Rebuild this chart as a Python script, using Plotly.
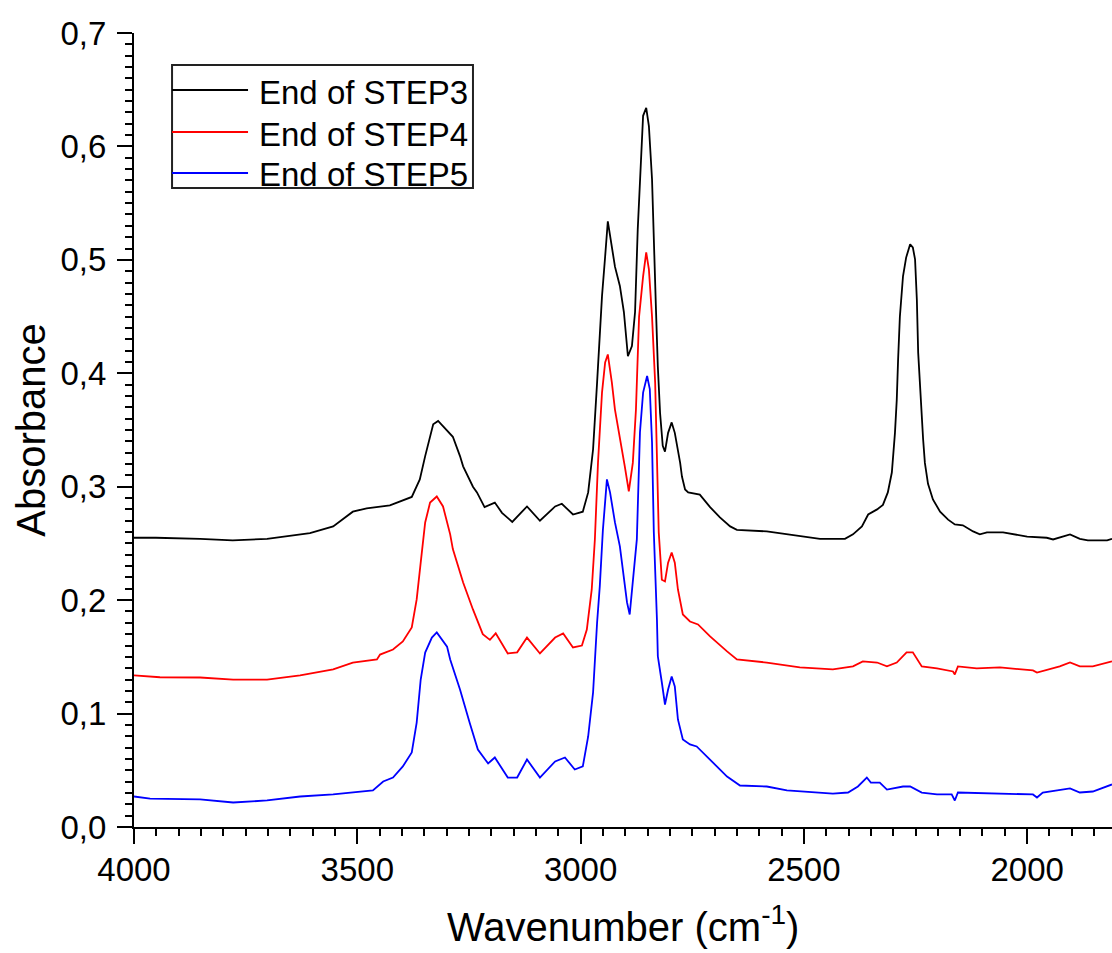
import plotly.graph_objects as go

# ---- data ----
step3_wn = [4000, 3951, 3852, 3779, 3702, 3606, 3554, 3510, 3479, 3427, 3378, 3360, 3348, 3330, 3319,
            3292, 3286, 3270, 3263, 3241, 3232, 3215, 3192, 3176, 3153, 3120, 3091, 3057, 3042, 3017,
            2995, 2983, 2972, 2963, 2952, 2945, 2939, 2923, 2912, 2903, 2894, 2885, 2878, 2872, 2867,
            2860, 2853, 2847, 2840, 2836, 2831, 2827, 2822, 2816, 2811, 2804, 2796, 2789, 2782, 2777,
            2773, 2766, 2759, 2733, 2710, 2688, 2665, 2650, 2583, 2524, 2464, 2408, 2390, 2370, 2356,
            2336, 2323, 2312, 2303, 2296, 2292, 2289, 2285, 2278, 2271, 2262, 2256, 2251, 2247, 2244,
            2238, 2233, 2229, 2222, 2211, 2195, 2177, 2162, 2144, 2121, 2106, 2090, 2054, 2000, 1956,
            1942, 1904, 1882, 1864, 1821, 1810]
step3_abs = [0.255, 0.255, 0.254, 0.2527, 0.254, 0.259, 0.265, 0.278, 0.281, 0.2835, 0.291, 0.3065, 0.327, 0.355, 0.358,
             0.346, 0.344, 0.327, 0.318, 0.300, 0.295, 0.282, 0.286, 0.277, 0.269, 0.2826, 0.270, 0.2826, 0.285, 0.2755,
             0.278, 0.295, 0.333, 0.392, 0.468, 0.503, 0.534, 0.494, 0.477, 0.454, 0.415, 0.424, 0.454, 0.527, 0.574,
             0.627, 0.634, 0.618, 0.571, 0.512, 0.454, 0.406, 0.365, 0.336, 0.331, 0.3475, 0.3567, 0.3475, 0.333, 0.321,
             0.309, 0.2976, 0.295, 0.293, 0.282, 0.273, 0.265, 0.262, 0.2606, 0.257, 0.254, 0.254, 0.258, 0.265, 0.2755,
             0.280, 0.284, 0.295, 0.3125, 0.3475, 0.3765, 0.412, 0.450, 0.4855, 0.502, 0.5137, 0.511, 0.5004, 0.465, 0.418,
             0.371, 0.342, 0.321, 0.3025, 0.2888, 0.278, 0.271, 0.2667, 0.266, 0.2606, 0.258, 0.2597, 0.2597, 0.256, 0.255,
             0.2535, 0.258, 0.254, 0.2527, 0.2527, 0.254]

step4_wn = [4000, 3942, 3852, 3778, 3702, 3628, 3554, 3510, 3456, 3449, 3420, 3398, 3378, 3367, 3358,
            3348, 3337, 3322, 3308, 3292, 3286, 3270, 3263, 3241, 3219, 3203, 3190, 3163, 3142, 3120,
            3091, 3057, 3039, 3017, 2997, 2986, 2975, 2968, 2961, 2952, 2945, 2939, 2930, 2923, 2912,
            2901, 2892, 2883, 2876, 2869, 2860, 2853, 2847, 2840, 2833, 2829, 2825, 2818, 2811, 2804,
            2796, 2789, 2782, 2771, 2755, 2737, 2710, 2672, 2650, 2583, 2509, 2435, 2390, 2368, 2336,
            2314, 2292, 2270, 2256, 2236, 2202, 2166, 2162, 2155, 2113, 2061, 1987, 1978, 1927, 1904,
            1882, 1853, 1810]
step4_abs = [0.1336, 0.132, 0.1318, 0.130, 0.130, 0.1336, 0.139, 0.145, 0.1477, 0.152, 0.1565, 0.1636, 0.176, 0.2006, 0.233,
             0.2685, 0.286, 0.2914, 0.2826, 0.258, 0.245, 0.224, 0.2156, 0.1918, 0.170, 0.165, 0.1707, 0.153, 0.154, 0.167,
             0.153, 0.167, 0.1707, 0.1583, 0.160, 0.174, 0.2094, 0.2535, 0.321, 0.383, 0.4096, 0.4166, 0.392, 0.368, 0.3444,
             0.318, 0.296, 0.321, 0.368, 0.450, 0.4855, 0.5066, 0.4916, 0.450, 0.392, 0.333, 0.260, 0.218, 0.2165, 0.233,
             0.242, 0.233, 0.2094, 0.1874, 0.1812, 0.1786, 0.168, 0.1548, 0.1477, 0.145, 0.1407, 0.139, 0.1416, 0.146, 0.145,
             0.1416, 0.145, 0.154, 0.154, 0.1416, 0.1398, 0.1371, 0.1345, 0.1416, 0.1398, 0.1407, 0.138, 0.1362, 0.1416, 0.145,
             0.1416, 0.1416, 0.146]

step5_wn = [4000, 3964, 3852, 3778, 3702, 3628, 3554, 3465, 3442, 3420, 3398, 3378, 3367, 3358, 3348,
            3333, 3322, 3299, 3292, 3270, 3248, 3230, 3207, 3192, 3163, 3142, 3120, 3091, 3057, 3035,
            3013, 2995, 2983, 2972, 2963, 2957, 2950, 2941, 2934, 2923, 2912, 2905, 2896, 2890, 2883,
            2874, 2867, 2860, 2851, 2845, 2840, 2836, 2829, 2827, 2818, 2811, 2804, 2796, 2789, 2782,
            2771, 2755, 2740, 2710, 2672, 2643, 2583, 2538, 2435, 2401, 2379, 2359, 2350, 2330, 2314,
            2278, 2262, 2236, 2202, 2169, 2162, 2155, 2061, 1987, 1978, 1965, 1904, 1882, 1853, 1810]
step5_abs = [0.0269, 0.0251, 0.0243, 0.0216, 0.0234, 0.0269, 0.0287, 0.0322, 0.0401, 0.0436, 0.0534, 0.0657, 0.0921, 0.130, 0.1538,
             0.167, 0.1715, 0.159, 0.1477, 0.1212, 0.0915, 0.0683, 0.056, 0.0613, 0.0436, 0.0436, 0.0595, 0.0436, 0.0578, 0.0613,
             0.0507, 0.0534, 0.0798, 0.1186, 0.1803, 0.2121, 0.262, 0.3065, 0.295, 0.2685, 0.2474, 0.224, 0.198, 0.1874, 0.218,
             0.2535, 0.348, 0.383, 0.3976, 0.386, 0.339, 0.260, 0.183, 0.1505, 0.1274, 0.108, 0.1212, 0.1327, 0.1239, 0.0948,
             0.0772, 0.0728, 0.071, 0.0595, 0.0445, 0.0366, 0.0357, 0.0322, 0.0295, 0.0304, 0.0357, 0.0436, 0.0392, 0.0392, 0.033,
             0.0357, 0.0357, 0.0304, 0.0287, 0.0287, 0.0234, 0.0304, 0.0295, 0.0287, 0.026, 0.0304, 0.034, 0.0304, 0.0313, 0.0375]

series_names = ["End of STEP3", "End of STEP4", "End of STEP5"]
series_colors = ["#000000", "#FF0000", "#0000FF"]

x_tickvals = [4000, 3500, 3000, 2500, 2000]
x_ticktext = ["4000", "3500", "3000", "2500", "2000"]
y_tickvals = [0.0, 0.1, 0.2, 0.3, 0.4, 0.5, 0.6, 0.7]
y_ticktext = ["0,0", "0,1", "0,2", "0,3", "0,4", "0,5", "0,6", "0,7"]
x_title = "Wavenumber (cm<sup>-1</sup>)"
y_title = "Absorbance"

FONT = "Liberation Sans, Arial, sans-serif"

fig = go.Figure()
for name, color, xs, ys in zip(series_names, series_colors,
                               [step3_wn, step4_wn, step5_wn],
                               [step3_abs, step4_abs, step5_abs]):
    fig.add_trace(go.Scatter(x=xs, y=ys, mode="lines", name=name,
                             line=dict(color=color, width=1.8), showlegend=False))

# ---- boxed legend (drawn in paper coordinates) ----
box_x0, box_x1 = 0.0389, 0.3466
box_y0, box_y1 = 0.8048, 0.9597
line_x0, line_x1 = 0.0389, 0.1166
text_x = 0.1258
row_y = [0.9282, 0.8753, 0.8237]

shapes = [dict(type="rect", xref="paper", yref="paper", x0=box_x0, x1=box_x1, y0=box_y0, y1=box_y1,
               line=dict(color="#222222", width=2), fillcolor="rgba(0,0,0,0)", layer="above")]
annotations = []
for name, color, ry in zip(series_names, series_colors, row_y):
    shapes.append(dict(type="line", xref="paper", yref="paper", x0=line_x0, x1=line_x1, y0=ry, y1=ry,
                       line=dict(color=color, width=2)))
    annotations.append(dict(xref="paper", yref="paper", x=text_x, y=ry, xanchor="left", yanchor="middle",
                            text=name, showarrow=False, yshift=-2,
                            font=dict(family=FONT, size=33, color="black")))

# x-axis title placed under the tick labels
annotations.append(dict(xref="paper", yref="paper", x=0.5, y=0, xanchor="center", yanchor="bottom",
                        yshift=-124, text=x_title, showarrow=False,
                        font=dict(family=FONT, size=40, color="black")))

fig.update_layout(
    width=1112, height=953,
    margin=dict(l=134, r=0, t=33, b=126),
    paper_bgcolor="white", plot_bgcolor="white",
    font=dict(family=FONT, size=33, color="black"),
    showlegend=False,
    shapes=shapes,
    annotations=annotations,
)

fig.update_xaxes(
    range=[4000, 1810], showgrid=False, zeroline=False,
    showline=True, linecolor="black", linewidth=2, mirror=False,
    tickmode="array", tickvals=x_tickvals, ticktext=x_ticktext,
    ticks="outside", ticklen=15, tickwidth=2, tickcolor="black",
    tickfont=dict(family=FONT, size=33), ticklabelstandoff=-3,
    minor=dict(tickmode="linear", tick0=0, dtick=50, ticks="outside",
               ticklen=7, tickwidth=2, tickcolor="black", showgrid=False),
)
fig.update_yaxes(
    range=[0, 0.7], showgrid=False, zeroline=False,
    showline=True, linecolor="black", linewidth=2, mirror=False,
    tickmode="array", tickvals=y_tickvals, ticktext=y_ticktext,
    ticks="outside", ticklen=15, tickwidth=2, tickcolor="black",
    tickfont=dict(family=FONT, size=33), ticklabelstandoff=4,
    minor=dict(tickmode="linear", tick0=0, dtick=0.01, ticks="outside",
               ticklen=7, tickwidth=2, tickcolor="black", showgrid=False),
    title=dict(text=y_title, font=dict(family=FONT, size=40), standoff=3),
)

fig.write_html("out.html", config={"displayModeBar": False},
               post_script="document.body.style.margin='0';document.body.style.overflow='hidden';")
